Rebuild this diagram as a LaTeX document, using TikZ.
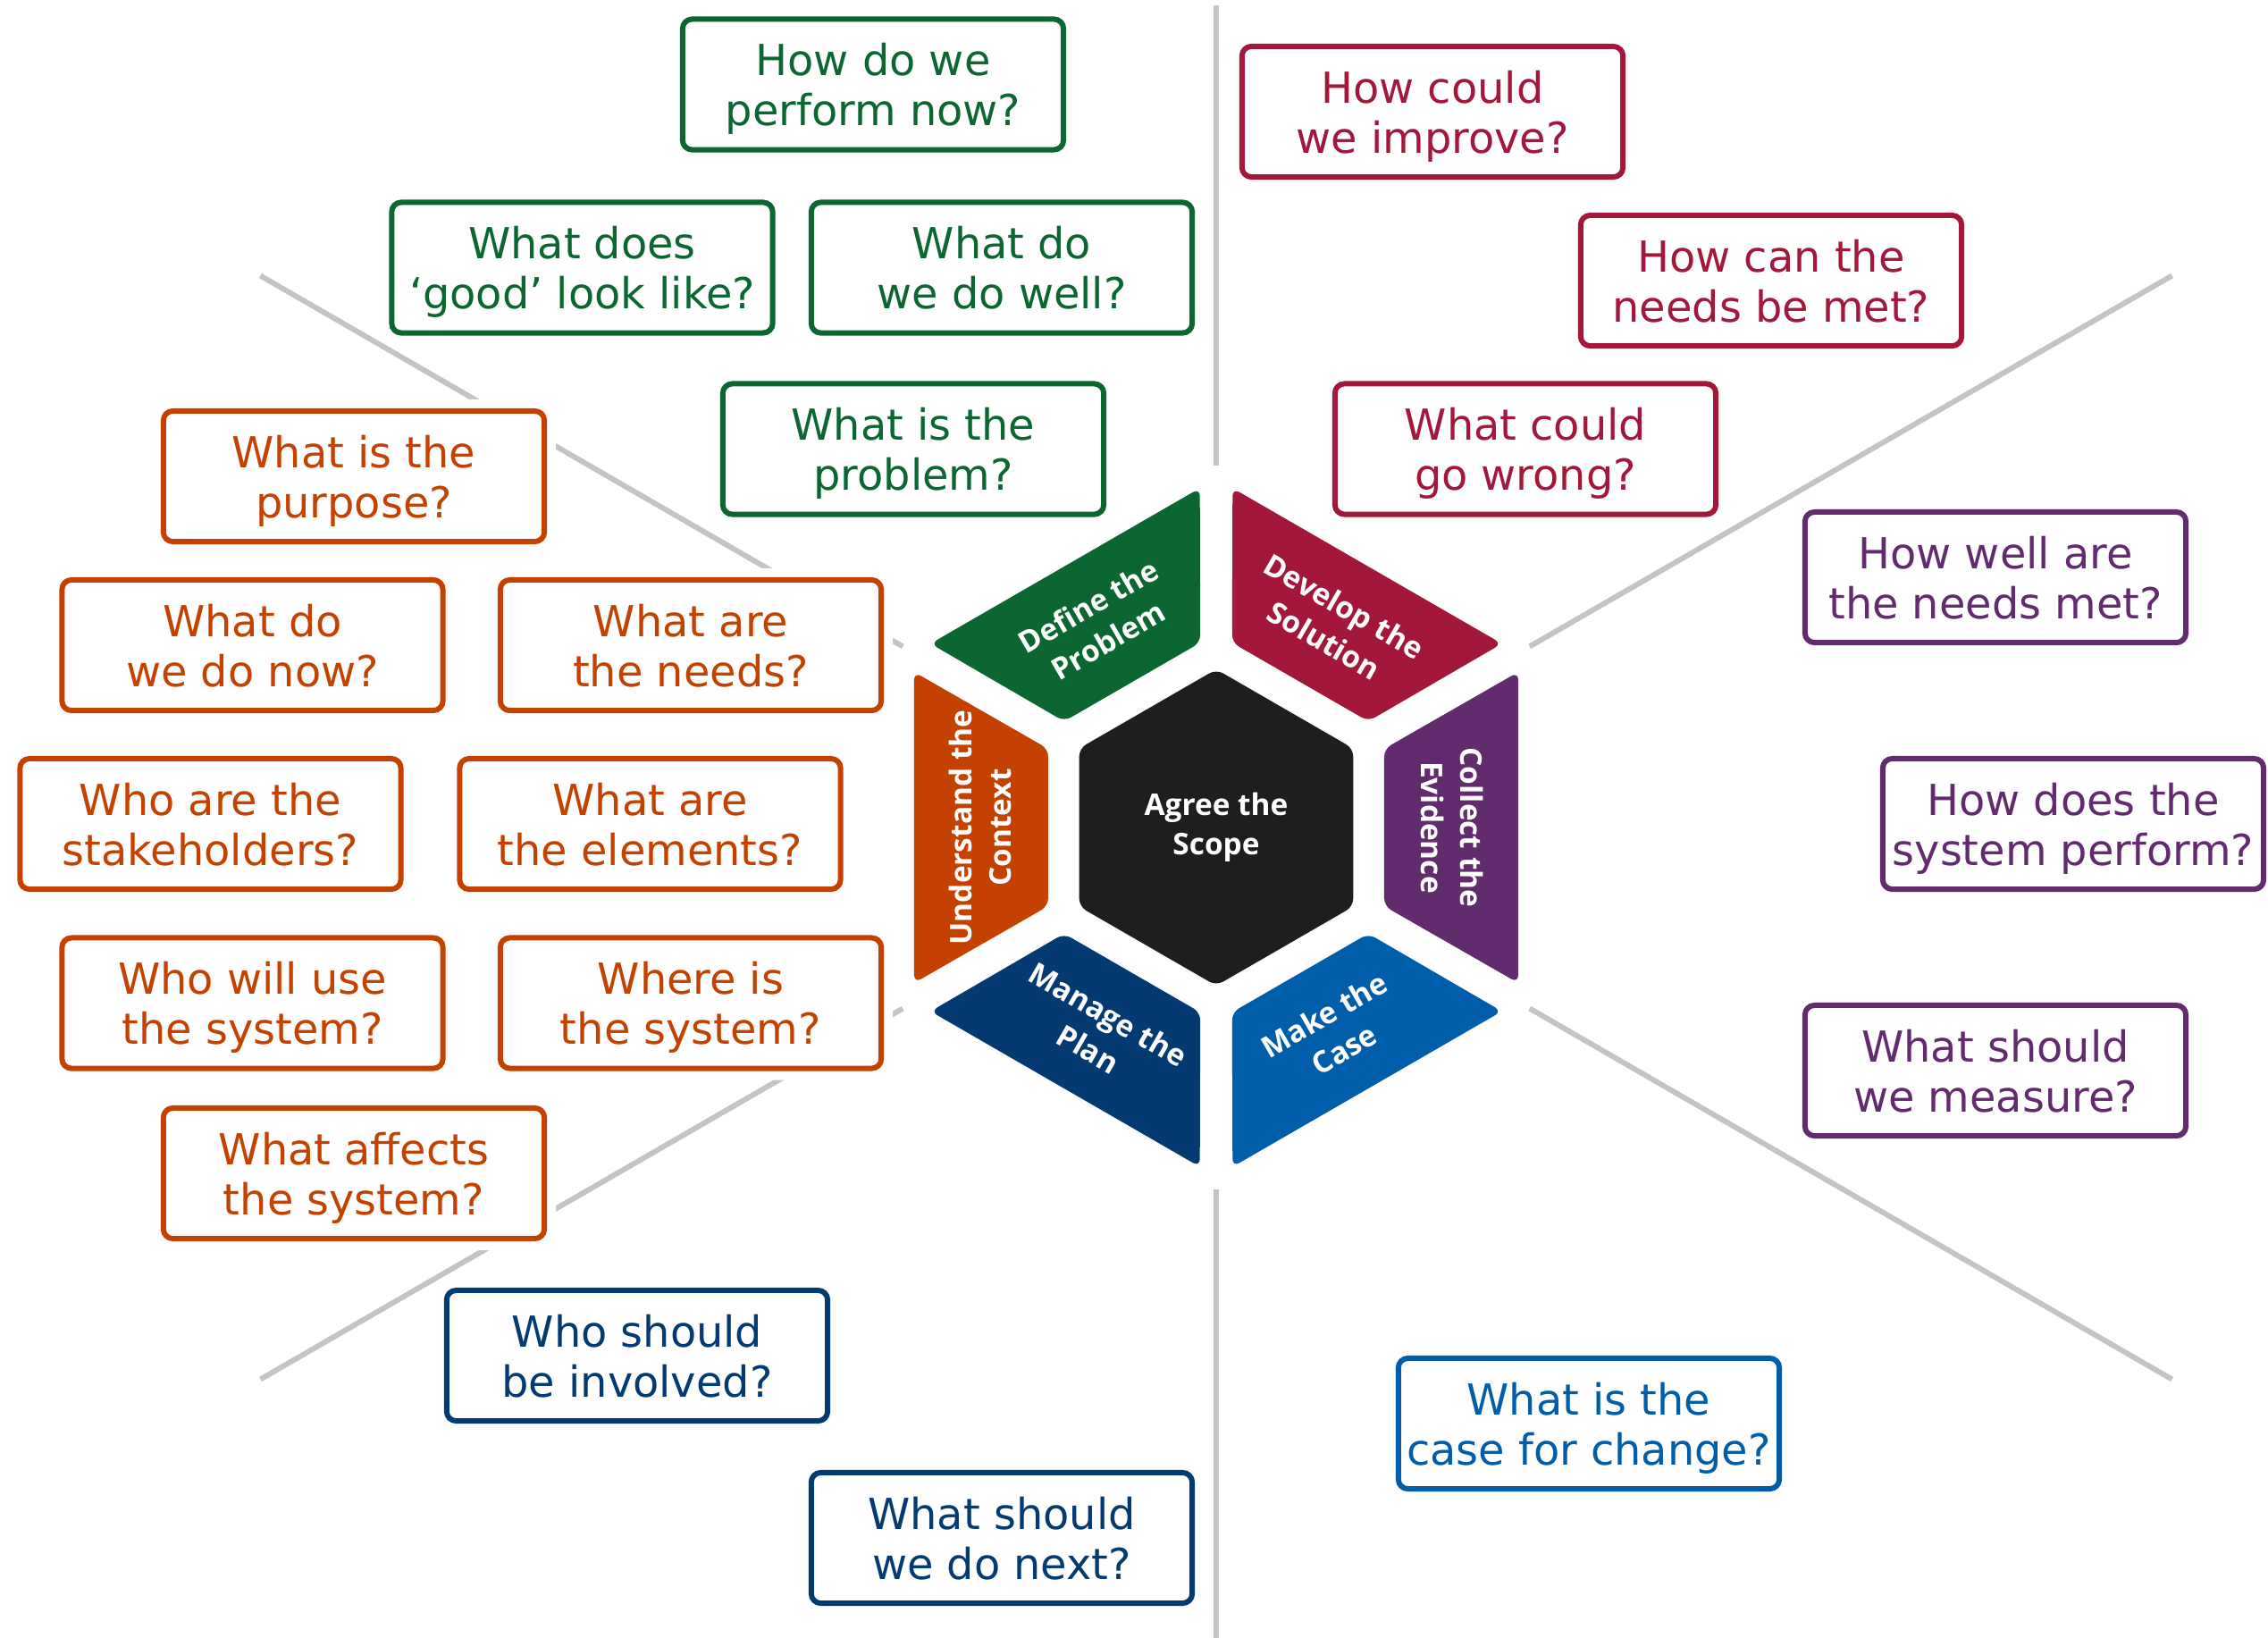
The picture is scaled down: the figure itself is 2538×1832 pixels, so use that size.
\documentclass[tikz,border=0pt]{standalone}
\usepackage{fontspec}
\setmainfont{DejaVu Sans}
\newfontfamily\hexfont{Open Sans}
\definecolor{defgreen}{HTML}{0B6631}
\definecolor{devred}{HTML}{A3183A}
\definecolor{colpurple}{HTML}{612B6E}
\definecolor{makeblue}{HTML}{005DAA}
\definecolor{mannavy}{HTML}{033A72}
\definecolor{undorange}{HTML}{C44100}
\definecolor{hexblack}{HTML}{1E1E1E}
\definecolor{sepgrey}{HTML}{C4C4C4}
\tikzset{
	qbox/.style={draw=#1, text=#1, fill=white, line width=1.7pt, rounded corners=3pt,
		minimum width=4.26cm, minimum height=1.46cm, align=center, inner sep=0pt, text depth=0pt,
		font=\fontsize{13.6}{16}\selectfont, preaction={draw=white, line width=0.26cm}},
	seglabel/.style={text=white, align=center, inner sep=0pt, font=\hexfont\bfseries\fontsize{9.5}{12.6}\selectfont},
	sepline/.style={draw=sepgrey, line width=1.7pt}
}
\begin{document}
\begin{tikzpicture}[x=0.01cm,y=0.01cm]
	\useasboundingbox (-1361,-906) rectangle (1177,926);
	% grey separators
	\foreach\a/\r in {30/1235,150/1235,210/1235,330/1235,90/920,270/915}{\draw[sepline] (\a:405) -- (\a:\r);}
	% ring of stages and the centre
	\foreach\a/\c in {0/colpurple,60/devred,120/defgreen,180/undorange,240/mannavy,300/makeblue}
		{\fill[\c, rotate=\a, rounded corners=2.5pt] (188,-88) -- (338,-174) -- (338,174) -- (188,88) -- cycle;}
	\fill[hexblack, rounded corners=2.5pt] (30:177) -- (90:177) -- (150:177) -- (210:177) -- (270:177) -- (330:177) -- cycle;
	\node[seglabel] (scope) at (0,0) {Agree the\\Scope};
	\node[seglabel, rotate=-90] (collect) at (0:264) {Collect the\\Evidence};
	\node[seglabel, rotate=-30] (develop) at (60:264) {Develop the\\Solution};
	\node[seglabel, rotate=30] (define) at (120:264) {Define the\\Problem};
	\node[seglabel, rotate=90] (understand) at (180:264) {Understand the\\Context};
	\node[seglabel, rotate=-30] (manage) at (240:264) {Manage the\\Plan};
	\node[seglabel, rotate=30] (make) at (300:264) {Make the\\Case};
	% questions
	\foreach\x/\y/\q [count=\i] in {-384/831.5/{How do we\\perform now?}, -709.5/626.5/{What does\\‘good’ look like?},
		-240/626.5/{What do\\we do well?}, -339/423.5/{What is the\\problem?}}
		{\node[qbox=defgreen] (def\i) at (\x,\y) {\q};}
	\foreach\x/\y/\q [count=\i] in {242/801/{How could\\we improve?}, 621/612/{How can the\\needs be met?},
		346/423.5/{What could\\go wrong?}}
		{\node[qbox=devred] (dev\i) at (\x,\y) {\q};}
	\foreach\x/\y/\q [count=\i] in {872/280/{How well are\\the needs met?}, 959/4/{How does the\\system perform?},
		872/-272/{What should\\we measure?}}
		{\node[qbox=colpurple] (col\i) at (\x,\y) {\q};}
	\node[qbox=makeblue] (make1) at (417,-667) {What is the\\case for change?};
	\node[qbox=mannavy] (man1) at (-648,-591) {Who should\\be involved?};
	\node[qbox=mannavy] (man2) at (-240,-795) {What should\\we do next?};
	\foreach\x/\y/\q [count=\i] in {-965/393/{What is the\\purpose?}, -1078.5/204/{What do\\we do now?},
		-588/204/{What are\\the needs?}, -1125.5/4/{Who are the\\stakeholders?}, -633.5/4/{What are\\the elements?},
		-1078.5/-196.5/{Who will use\\the system?}, -588/-196.5/{Where is\\the system?}, -965/-387/{What affects\\the system?}}
		{\node[qbox=undorange] (und\i) at (\x,\y) {\q};}
\end{tikzpicture}
\end{document}
